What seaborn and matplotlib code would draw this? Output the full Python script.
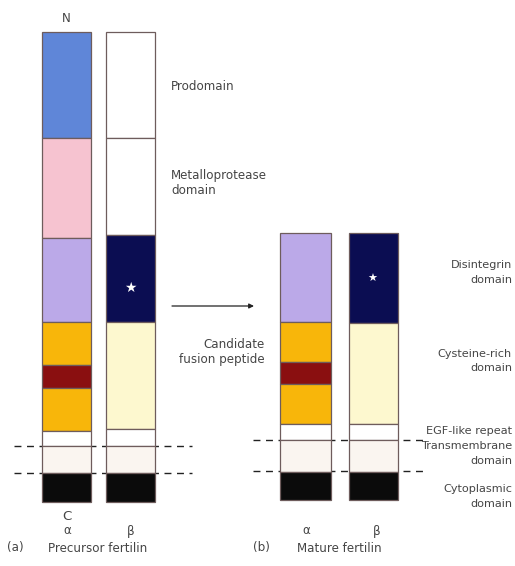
import matplotlib
matplotlib.use("Agg")
import matplotlib.pyplot as plt
import seaborn as sns

sns.set_theme(style="white")
plt.rcParams["font.family"] = ["DejaVu Sans"]

# Domain lengths (top = N-terminus, bottom = C-terminus)
pre_alpha_domains = ["Prodomain", "Metalloprotease", "Disintegrin", "Cys-rich", "Fusion peptide",
                     "Cys-rich", "EGF-like", "Transmembrane", "Cytoplasmic"]
pre_alpha_len = [106, 100, 84, 43, 23, 43, 15, 27, 29]
pre_alpha_col = ["#5f86d8", "#f6c3d0", "#bba9e8", "#f8b60a", "#8a0f10",
                 "#f8b60a", "#ffffff", "#faf5f0", "#0b0b0b"]

pre_beta_domains = ["Prodomain", "Metalloprotease", "Disintegrin", "Cys-rich",
                    "EGF-like", "Transmembrane", "Cytoplasmic"]
pre_beta_len = [106, 97, 87, 107, 17, 27, 29]
pre_beta_col = ["#ffffff", "#ffffff", "#0b0d52", "#fdf8cf", "#ffffff", "#faf5f0", "#0b0b0b"]

mat_alpha_domains = ["Disintegrin", "Cys-rich", "Fusion peptide", "Cys-rich",
                     "EGF-like", "Transmembrane", "Cytoplasmic"]
mat_alpha_len = [89, 40, 22, 40, 16, 32, 28]
mat_alpha_col = ["#bba9e8", "#f8b60a", "#8a0f10", "#f8b60a", "#ffffff", "#faf5f0", "#0b0b0b"]

mat_beta_domains = ["Disintegrin", "Cys-rich", "EGF-like", "Transmembrane", "Cytoplasmic"]
mat_beta_len = [90, 101, 16, 32, 28]
mat_beta_col = ["#0b0d52", "#fdf8cf", "#ffffff", "#faf5f0", "#0b0b0b"]

fig = plt.figure(figsize=(5.15, 5.66), dpi=100)
ax = fig.add_axes([0, 0, 1, 1])
ax.set_xlim(0, 515)
ax.set_ylim(566, 0)
ax.axis("off")

edge = "#6e5c5c"
txt = "#454545"


def stacked_bar(x, width, top, lengths, colors):
    start = top
    for length, color in zip(lengths, colors):
        ax.bar(x, length, width=width, bottom=start, color=color,
               edgecolor=edge, linewidth=0.9, zorder=2)
        start += length


# membrane boundary dashes
for y in (446, 473):
    ax.plot([14, 192], [y, y], ls=(0, (5, 4)), color="#222222", lw=1.0, zorder=1)
for y in (440, 471):
    ax.plot([253, 424], [y, y], ls=(0, (5, 4)), color="#222222", lw=1.0, zorder=1)

stacked_bar(66.5, 49, 32, pre_alpha_len, pre_alpha_col)
stacked_bar(130.5, 49, 32, pre_beta_len, pre_beta_col)
stacked_bar(305.5, 51, 233, mat_alpha_len, mat_alpha_col)
stacked_bar(373.5, 49, 233, mat_beta_len, mat_beta_col)

# stars marking the beta disintegrin domain
ax.text(130, 288, "\u2605", color="white", fontsize=10, ha="center", va="center", zorder=4)
ax.text(372, 279, "\u2605", color="white", fontsize=8, ha="center", va="center", zorder=4)

# processing arrow
ax.annotate("", xy=(254, 306), xytext=(172, 306),
            arrowprops=dict(arrowstyle="-|>", color="#222222", lw=0.9,
                            mutation_scale=7, shrinkA=0, shrinkB=0))

fs = 8.6
ax.text(66, 19, "N", fontsize=fs, color=txt, ha="center", va="center")
ax.text(67, 516, "C", fontsize=fs + 1, color=txt, ha="center", va="center")
ax.text(67, 531, "\u03b1", fontsize=fs, color=txt, ha="center", va="center")
ax.text(131, 531, "\u03b2", fontsize=fs, color=txt, ha="center", va="center")
ax.text(306, 531, "\u03b1", fontsize=fs, color=txt, ha="center", va="center")
ax.text(377, 531, "\u03b2", fontsize=fs, color=txt, ha="center", va="center")
ax.text(7, 548, "(a)", fontsize=fs, color=txt, ha="left", va="center")
ax.text(48, 548, "Precursor fertilin", fontsize=fs, color=txt, ha="left", va="center")
ax.text(253, 548, "(b)", fontsize=fs, color=txt, ha="left", va="center")
ax.text(297, 548, "Mature fertilin", fontsize=fs, color=txt, ha="left", va="center")

ax.text(171, 86, "Prodomain", fontsize=fs, color=txt, ha="left", va="center")
ax.text(171, 176, "Metalloprotease", fontsize=fs, color=txt, ha="left", va="center")
ax.text(171, 191, "domain", fontsize=fs, color=txt, ha="left", va="center")
ax.text(265, 345, "Candidate", fontsize=fs, color=txt, ha="right", va="center")
ax.text(265, 360, "fusion peptide", fontsize=fs, color=txt, ha="right", va="center")

# domain names for the mature form, kept inside the right edge
rx = 512
rfs = 8.1
ax.text(rx, 265, "Disintegrin", fontsize=rfs, color=txt, ha="right", va="center")
ax.text(rx, 280, "domain", fontsize=rfs, color=txt, ha="right", va="center")
ax.text(rx, 354, "Cysteine-rich", fontsize=rfs, color=txt, ha="right", va="center")
ax.text(rx, 368, "domain", fontsize=rfs, color=txt, ha="right", va="center")
ax.text(rx, 431, "EGF-like repeat", fontsize=rfs, color=txt, ha="right", va="center")
ax.text(rx, 446, "Transmembrane", fontsize=rfs, color=txt, ha="right", va="center")
ax.text(rx, 461, "domain", fontsize=rfs, color=txt, ha="right", va="center")
ax.text(rx, 489, "Cytoplasmic", fontsize=rfs, color=txt, ha="right", va="center")
ax.text(rx, 504, "domain", fontsize=rfs, color=txt, ha="right", va="center")

fig.savefig("out.png", dpi=100, facecolor="white")
